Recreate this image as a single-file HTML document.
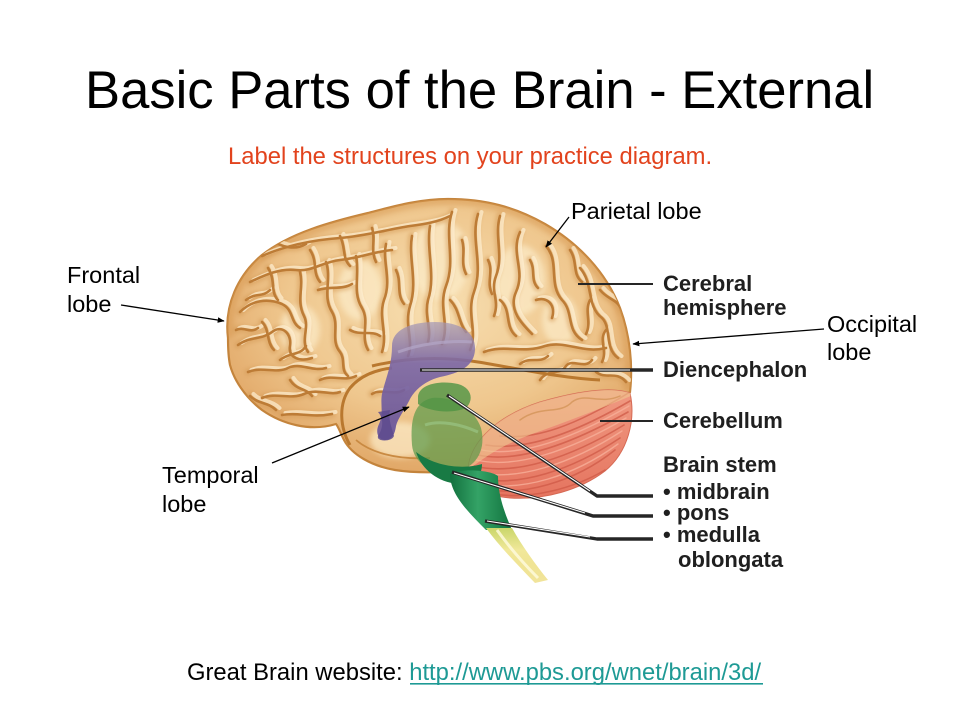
<!DOCTYPE html>
<html>
<head>
<meta charset="utf-8">
<style>
  html,body{margin:0;padding:0;background:#fff;}
  body{width:960px;height:720px;overflow:hidden;}
  svg{display:block;}
  text{font-family:"Liberation Sans", Arial, sans-serif;}
</style>
</head>
<body>
<svg width="960" height="720" viewBox="0 0 960 720" xmlns="http://www.w3.org/2000/svg">
  <defs>
    <radialGradient id="tan" cx="0.52" cy="0.4" r="0.62">
      <stop offset="0" stop-color="#f7deb0"/>
      <stop offset="0.6" stop-color="#efc78e"/>
      <stop offset="1" stop-color="#e0a564"/>
    </radialGradient>
    <linearGradient id="purp" x1="0" y1="0" x2="0" y2="1">
      <stop offset="0" stop-color="#a497b4" stop-opacity="0.7"/>
      <stop offset="0.35" stop-color="#7a66a6" stop-opacity="0.9"/>
      <stop offset="1" stop-color="#6a5598" stop-opacity="0.95"/>
    </linearGradient>
    <linearGradient id="medg" x1="0" y1="0" x2="1" y2="0">
      <stop offset="0" stop-color="#12703e"/>
      <stop offset="0.45" stop-color="#34a366"/>
      <stop offset="1" stop-color="#11733f"/>
    </linearGradient>
    <linearGradient id="yel" x1="0" y1="0" x2="0" y2="1">
      <stop offset="0" stop-color="#c9d66a"/>
      <stop offset="0.4" stop-color="#f1e89a"/>
      <stop offset="1" stop-color="#e8d25a" stop-opacity="0.6"/>
    </linearGradient>
    <linearGradient id="cbl" x1="0" y1="0" x2="0" y2="1">
      <stop offset="0" stop-color="#f09a82"/>
      <stop offset="1" stop-color="#e5745f"/>
    </linearGradient>
    <clipPath id="cbclip">
      <path d="M468,470 C470,440 500,415 540,402 C575,392 610,386 630,393 C636,420 628,452 605,471 C580,490 545,500 510,498 C488,496 470,488 468,470 Z"/>
    </clipPath>
    <clipPath id="brclip">
      <path d="M228,338 C224,305 238,275 262,255 C290,233 330,222 368,213 C395,206 420,199 448,199 C485,199 515,207 545,224 C578,243 606,272 620,308 C630,335 633,365 630,392 L470,470 C450,472 420,474 395,470 C372,466 352,455 344,440 C340,432 338,426 336,424 C310,432 282,424 262,410 C245,397 234,380 230,365 C228,355 228,346 228,338 Z"/>
    </clipPath>
    <filter id="blur3" x="-20%" y="-20%" width="140%" height="140%"><feGaussianBlur stdDeviation="3"/></filter>
    <filter id="blur2" x="-20%" y="-20%" width="140%" height="140%"><feGaussianBlur stdDeviation="1.6"/></filter>
    <marker id="ah" viewBox="0 0 10 10" refX="9" refY="5" markerWidth="7" markerHeight="7" orient="auto" markerUnits="userSpaceOnUse">
      <path d="M0,1 L10,5 L0,9 Z" fill="#000"/>
    </marker>
    <g id="sulci" fill="none" stroke-linecap="round" stroke-linejoin="round">
      <path d="M262,256 C285,246 312,240 340,238 C365,236 385,230 410,226 C425,224 438,222 450,216"/>
      <path d="M250,282 C265,275 280,268 296,270 C312,272 322,262 340,260 C360,258 372,252 392,250"/>
      <path d="M300,272 C304,288 296,300 304,316 C310,328 300,340 308,352"/>
      <path d="M240,312 C252,300 268,298 282,304 C294,310 290,322 300,328"/>
      <path d="M326,262 C332,280 322,296 332,312 C340,326 330,340 340,352 C346,360 340,370 348,376"/>
      <path d="M356,256 C360,275 352,292 362,308 C370,322 360,336 368,350"/>
      <path d="M238,345 C250,336 262,340 272,332 C282,324 292,334 290,346 C288,358 300,362 312,358"/>
      <path d="M248,372 C262,366 276,374 288,368 C300,362 312,372 326,368"/>
      <path d="M262,398 C276,392 290,400 304,394 C318,388 330,396 340,392"/>
      <path d="M282,415 C298,412 312,418 332,414"/>
      <path d="M318,290 C330,286 342,290 352,284"/>
      <path d="M272,240 C282,248 296,250 306,244"/>
      <path d="M386,244 C382,262 392,280 384,300 C378,318 388,334 382,352"/>
      <path d="M412,236 C408,258 418,282 410,306 C404,326 414,342 408,356"/>
      <path d="M452,212 C444,236 456,260 446,286 C438,308 450,324 442,344"/>
      <path d="M430,226 C426,250 436,276 428,300 C424,316 432,330 428,342"/>
      <path d="M478,214 C470,240 484,264 474,292 C466,314 478,332 470,350"/>
      <path d="M500,216 C494,236 504,256 496,276 C490,292 500,300 494,316"/>
      <path d="M520,232 C510,254 526,270 516,292 C508,310 522,324 532,334"/>
      <path d="M546,246 C560,262 548,284 562,300 C574,312 566,330 582,340"/>
      <path d="M580,268 C594,284 586,306 602,318 C612,328 604,348 618,358"/>
      <path d="M500,300 C512,310 504,326 516,336"/>
      <path d="M536,300 C548,296 556,306 552,318"/>
      <path d="M484,352 C505,344 522,354 545,346 C566,340 582,354 606,348"/>
      <path d="M560,220 C570,232 585,238 598,250"/>
      <path d="M600,290 C608,300 616,298 622,310"/>
      <path d="M596,372 C606,380 616,370 626,382"/>
      <path d="M540,380 C548,368 560,376 566,366 C572,358 585,370 592,360"/>
      <path d="M268,268 C276,280 270,292 278,300"/>
      <path d="M350,330 C360,336 372,330 380,336"/>
      <path d="M262,322 C270,330 266,342 274,350"/>
      <path d="M372,394 C382,388 394,396 404,390"/>
      <path d="M246,300 C256,292 262,298 270,290"/>
      <path d="M236,330 C244,326 250,334 258,328"/>
      <path d="M280,360 C290,352 300,356 306,346"/>
      <path d="M320,380 C332,374 344,382 356,376"/>
      <path d="M290,380 C296,390 306,388 312,396"/>
      <path d="M340,236 C346,248 342,258 350,266"/>
      <path d="M372,228 C376,240 370,250 376,262"/>
      <path d="M396,270 C402,282 396,294 404,304"/>
      <path d="M462,240 C466,252 460,262 466,274"/>
      <path d="M488,260 C494,272 486,282 492,294"/>
      <path d="M530,260 C536,270 530,280 538,288"/>
      <path d="M570,250 C578,262 572,274 582,282"/>
      <path d="M606,330 C598,340 608,350 602,362"/>
      <path d="M520,364 C530,356 540,364 548,356"/>
      <path d="M450,300 C460,310 458,322 466,332"/>
      <path d="M310,250 C318,262 312,272 320,282"/>
      <path d="M250,396 C258,404 268,402 276,410"/>
      <path d="M590,300 C584,312 592,322 586,334"/>
    </g>
  </defs>

  <!-- Title -->
  <text x="85" y="108" font-size="52.6" fill="#000">Basic Parts of the Brain - External</text>
  <text x="228" y="164" font-size="23.8" fill="#e2431d">Label the structures on your practice diagram.</text>

  <!-- Cerebrum base -->
  <path d="M228,338 C224,305 238,275 262,255 C290,233 330,222 368,213 C395,206 420,199 448,199 C485,199 515,207 545,224 C578,243 606,272 620,308 C630,335 633,365 630,392 L470,470 C450,472 420,474 395,470 C372,466 352,455 344,440 C340,432 338,426 336,424 C310,432 282,424 262,410 C245,397 234,380 230,365 C228,355 228,346 228,338 Z" fill="url(#tan)" stroke="#c4843c" stroke-width="2.2"/>

  <g clip-path="url(#brclip)">
    <!-- soft highlights -->
    <g filter="url(#blur3)" fill="#fcecc9" opacity="0.7">
      <ellipse cx="440" cy="260" rx="30" ry="40"/>
      <ellipse cx="520" cy="280" rx="25" ry="35"/>
      <ellipse cx="360" cy="290" rx="22" ry="30"/>
      <ellipse cx="300" cy="330" rx="20" ry="25"/>
      <ellipse cx="560" cy="320" rx="18" ry="25"/>
      <ellipse cx="400" cy="440" rx="30" ry="18"/>
    </g>
    <!-- edge shading -->
    <path d="M228,338 C224,305 238,275 262,255 C290,233 330,222 368,213 C395,206 420,199 448,199 C485,199 515,207 545,224 C578,243 606,272 620,308 C630,335 633,365 630,392" fill="none" stroke="#d59650" stroke-width="12" opacity="0.5" filter="url(#blur3)"/>
    <!-- sulci shading -->
    <use href="#sulci" stroke="#d49a56" stroke-width="8" opacity="0.45" filter="url(#blur2)"/>
    <use href="#sulci" stroke="#fff1d4" stroke-width="4" opacity="0.7" transform="translate(3.5,-2)"/>
    <use href="#sulci" stroke="#bd7c36" stroke-width="2.6"/>
    <!-- sylvian fissure & temporal pole -->
    <path d="M372,366 C405,358 440,356 478,362 C515,368 560,378 600,380" fill="none" stroke="#b9782f" stroke-width="3"/>
    <path d="M350,445 C340,428 338,404 350,388 C360,376 374,370 392,368" fill="none" stroke="#b9782f" stroke-width="3"/>
    <path d="M356,440 C370,452 395,460 430,458" fill="none" stroke="#c98a42" stroke-width="1.8"/>
  </g>

  <!-- Cerebellum -->
  <path d="M468,470 C470,440 500,415 540,402 C575,392 610,386 630,393 C636,420 628,452 605,471 C580,490 545,500 510,498 C488,496 470,488 468,470 Z" fill="url(#cbl)" stroke="#d66a55" stroke-width="1"/>
  <g clip-path="url(#cbclip)" fill="none" stroke-linecap="round">
    <g stroke="#cf5a47" stroke-width="1.6" opacity="0.75">
      <path d="M480,488 C520,498 575,482 615,450"/>
      <path d="M476,478 C518,488 572,470 620,438"/>
      <path d="M474,466 C515,476 570,458 624,425"/>
      <path d="M478,455 C515,463 566,447 628,412"/>
      <path d="M486,445 C522,451 570,436 630,401"/>
      <path d="M500,436 C535,440 575,426 630,392"/>
      <path d="M495,494 C530,500 575,488 605,470"/>
    </g>
    <g stroke="#f8b09a" stroke-width="1.4" opacity="0.8">
      <path d="M478,483 C520,493 574,476 618,444"/>
      <path d="M475,472 C516,482 571,464 622,431"/>
      <path d="M476,460 C515,469 568,452 626,418"/>
      <path d="M482,450 C518,457 568,441 629,406"/>
    </g>
    <!-- translucent cerebrum over upper cerebellum -->
    <path d="M440,370 L645,370 L645,390 C612,404 572,420 532,434 C505,444 485,456 466,472 L440,472 Z" fill="#efc690" opacity="0.62"/>
    <path d="M520,420 C540,405 560,415 572,402 C585,392 600,405 620,396" stroke="#c98a4a" stroke-width="1.5" opacity="0.6"/>
  </g>

  <!-- Diencephalon (purple) -->
  <path d="M392,346 C392,330 410,322 435,322 C460,322 476,332 475,350 C474,366 460,373 440,377 C425,381 414,390 409,401 C404,411 398,418 396,426 C395,434 392,440 385,440 C378,440 375,432 379,424 C384,414 380,404 382,394 C385,380 392,366 392,346 Z" fill="url(#purp)"/>
  <path d="M398,352 C420,344 448,340 472,342" fill="none" stroke="#b3a7c8" stroke-width="3" opacity="0.7"/>
  <path d="M378,412 C385,420 382,430 378,436 C376,442 392,442 394,436 C392,428 388,420 390,410" fill="#5e4b8e" opacity="0.85"/>

  <!-- Brainstem (green) -->
  <path d="M412,445 C410,420 414,402 432,398 C452,396 474,408 481,428 C486,448 478,466 458,471 C436,475 414,466 412,445 Z" fill="#5d9a4a" opacity="0.72"/>
  <path d="M418,396 C420,384 440,380 458,384 C472,388 474,400 466,408 C452,414 430,412 418,404 Z" fill="#4d9444" opacity="0.8"/>
  <path d="M425,425 C440,420 460,424 478,432" fill="none" stroke="#9cc98a" stroke-width="3" opacity="0.6"/>
  <path d="M416,452 C422,470 438,482 458,484 C472,485 482,478 482,464 C470,468 440,470 416,452 Z" fill="#187a44"/>
  <path d="M450,474 C450,494 468,512 486,530 L512,530 C504,512 498,494 498,476 C490,470 462,468 450,474 Z" fill="url(#medg)"/>
  <path d="M486,528 L512,528 C522,546 536,565 548,580 L535,583 C516,563 499,546 486,528 Z" fill="url(#yel)"/>
  <path d="M497,530 C510,548 522,562 538,578" fill="none" stroke="#fffbe0" stroke-width="3" opacity="0.8"/>

  <!-- Label arrows -->
  <g stroke="#000" stroke-width="1.3" fill="none" marker-end="url(#ah)">
    <line x1="121" y1="305" x2="224" y2="321"/>
    <line x1="569" y1="217" x2="546" y2="247"/>
    <line x1="824" y1="329" x2="633" y2="344"/>
    <line x1="272" y1="463" x2="409" y2="407"/>
  </g>

  <!-- Leader lines -->
  <g stroke="#262626" stroke-width="2" fill="none">
    <line x1="578" y1="284" x2="653" y2="284"/>
    <line x1="600" y1="421" x2="653" y2="421"/>
  </g>
  <g fill="none" stroke-linejoin="round">
    <g stroke="#262626" stroke-width="3.4">
      <polyline points="420,370 653,370"/>
      <polyline points="447,395 597,496 653,496"/>
      <polyline points="452,472 593,516 653,516"/>
      <polyline points="485,521 597,539 653,539"/>
    </g>
    <g stroke="#ffffff" stroke-width="1.1">
      <polyline points="422,370 630,370"/>
      <polyline points="449,396 590,491"/>
      <polyline points="454,473 585,513"/>
      <polyline points="487,521 590,537"/>
    </g>
  </g>

  <!-- Plain labels -->
  <g font-size="23.5" fill="#000">
    <text x="571" y="219">Parietal lobe</text>
    <text x="67" y="283">Frontal</text>
    <text x="67" y="312">lobe</text>
    <text x="827" y="332">Occipital</text>
    <text x="827" y="360">lobe</text>
    <text x="162" y="483">Temporal</text>
    <text x="162" y="512">lobe</text>
  </g>

  <!-- Bold labels -->
  <g font-size="22" font-weight="bold" fill="#1f1f1f">
    <text x="663" y="291">Cerebral</text>
    <text x="663" y="315">hemisphere</text>
    <text x="663" y="377">Diencephalon</text>
    <text x="663" y="428">Cerebellum</text>
    <text x="663" y="472">Brain stem</text>
    <text x="663" y="499">• midbrain</text>
    <text x="663" y="520">• pons</text>
    <text x="663" y="542">• medulla</text>
    <text x="678" y="567">oblongata</text>
  </g>

  <!-- Footer -->
  <text x="187" y="680" font-size="23.8" fill="#000">Great Brain website: <tspan fill="#1e9a95">http://www.pbs.org/wnet/brain/3d/</tspan></text>
  <rect x="410" y="683" width="353" height="1.6" fill="#1e9a95"/>
</svg>
</body>
</html>
